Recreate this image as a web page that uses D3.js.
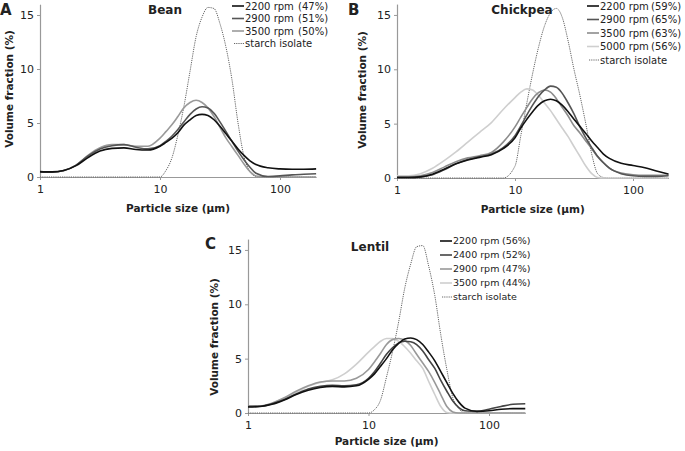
<!DOCTYPE html>
<html><head><meta charset="utf-8">
<script src="https://cdn.jsdelivr.net/npm/d3@7"></script>
<style>
body{margin:0;background:#fff}
text{font-family:"DejaVu Sans",Verdana,sans-serif;fill:#222}
</style>
</head><body>
<svg id="chart" width="685" height="451"></svg>
<script>
// particle sizes (µm), shared grid
const sizes = [1, 1.26, 1.58, 2, 2.51, 3.16, 3.98, 5.01, 6.31, 7.94,
  10, 11.2, 12.6, 14.1, 15.8, 17.8, 20, 22.4, 25.1, 28.2, 31.6, 35.5, 39.8, 44.7, 50.1, 56.2, 63.1,
  79.4, 100, 126, 158, 200];
const xTicks = [1, 10, 100];
const yTicks = [0, 5, 10, 15];

// A: Bean
const beanNames = ["2200 rpm", "2900 rpm", "3500 rpm", "starch isolate"];
const beanPct = ["(47%)", "(51%)", "(50%)", ""];
const bean2200 = [0.5,0.47,0.6,1.05,1.8,2.4,2.65,2.7,2.55,2.5,2.85,3.2,3.6,4.1,4.8,5.3,5.7,5.8,5.7,5.3,4.7,4.0,3.3,2.6,2.0,1.5,1.15,0.85,0.75,0.72,0.72,0.75];
const bean2900 = [0.45,0.45,0.6,1.1,1.95,2.6,2.9,3.0,2.75,2.6,2.9,3.3,3.8,4.4,5.1,5.8,6.3,6.5,6.4,5.9,5.1,4.2,3.3,2.4,1.6,0.9,0.35,0.05,0.1,0.2,0.25,0.3];
const bean3500 = [0.45,0.45,0.6,1.1,2.0,2.7,3.0,3.0,2.85,2.85,3.6,4.2,4.85,5.6,6.4,6.9,7.1,6.9,6.4,5.6,4.6,3.6,2.8,2.0,1.2,0.5,0.1,0,0,0,0,0];
const beanStarch = [0,0,0,0,0,0,0,0,0,0,0,0.6,1.8,3.9,6.5,9.8,13.0,14.8,15.7,15.6,14.2,12.0,9.0,5.0,1.9,0.5,0.05,0,0,0,0,0];

// B: Chickpea
const chickNames = ["2200 rpm", "2900 rpm", "3500 rpm", "5000 rpm", "starch isolate"];
const chickPct = ["(59%)", "(65%)", "(63%)", "(56%)", ""];
const chick2200 = [0.05,0.05,0.1,0.35,0.8,1.3,1.65,1.9,2.15,2.7,3.7,4.6,5.4,6.1,6.7,7.1,7.25,7.1,6.7,6.1,5.4,4.75,4.1,3.4,2.8,2.2,1.8,1.35,1.15,0.95,0.65,0.35];
const chick2900 = [0.05,0.05,0.1,0.3,0.75,1.3,1.7,1.95,2.2,2.8,3.9,4.8,5.8,6.7,7.5,8.1,8.45,8.35,7.8,6.9,5.9,4.7,3.7,2.8,2.0,1.4,0.9,0.4,0.2,0.15,0.15,0.2];
const chick3500 = [0.1,0.1,0.2,0.5,1.0,1.5,1.85,2.05,2.35,3.3,4.7,5.6,6.5,7.3,7.85,8.1,7.9,7.3,6.5,5.7,4.8,4.15,3.4,2.7,1.95,1.4,0.9,0.45,0.3,0.25,0.25,0.25];
const chick5000 = [0.2,0.2,0.4,0.9,1.6,2.4,3.3,4.2,5.1,6.3,7.4,7.9,8.2,8.1,7.6,6.9,6.2,5.4,4.6,3.8,2.9,2.0,1.1,0.4,0.05,0,0,0,0,0,0,0];
const chickStarch = [0,0,0,0,0,0,0,0,0,0,1.1,3.9,6.9,9.6,12.0,14.0,15.2,15.6,14.8,12.6,10.0,7.6,5.0,2.2,0.4,0.05,0,0,0,0,0,0];

// C: Lentil
const lentilNames = ["2200 rpm", "2400 rpm", "2900 rpm", "3500 rpm", "starch isolate"];
const lentilPct = ["(56%)", "(52%)", "(47%)", "(44%)", ""];
const lentil2200 = [0.55,0.6,0.8,1.2,1.7,2.1,2.35,2.45,2.4,2.5,3.1,3.6,4.3,5.0,5.8,6.4,6.8,6.9,6.75,6.3,5.6,4.8,3.8,2.8,1.8,1.0,0.45,0.15,0.2,0.35,0.4,0.4];
const lentil2400 = [0.6,0.62,0.85,1.25,1.75,2.2,2.45,2.55,2.5,2.6,3.2,3.8,4.6,5.4,6.0,6.45,6.6,6.55,6.3,5.7,4.9,4.1,3.0,2.0,1.1,0.5,0.2,0.15,0.35,0.6,0.8,0.85];
const lentil2900 = [0.65,0.65,0.9,1.4,2.0,2.5,2.85,2.95,2.95,3.2,4.0,4.7,5.5,6.3,6.75,6.85,6.7,6.2,5.4,4.6,3.8,2.8,1.7,0.6,0.1,0,0,0,0,0,0,0];
const lentil3500 = [0.6,0.62,0.9,1.35,1.9,2.45,2.8,3.05,3.6,4.5,5.6,6.1,6.6,6.85,6.85,6.6,6.1,5.5,4.8,4.1,2.9,1.7,0.6,0.05,0,0,0,0,0,0,0,0];
const lentilStarch = [0,0,0,0,0,0,0,0,0,0,0,0.3,1.2,3.3,5.6,8.4,11.5,13.7,15.3,15.4,13.5,10.8,7.2,4.0,1.4,0.4,0,0,0,0,0,0];

const panels = [
  {letter:"A", title:"Bean", names:beanNames, pct:beanPct,
   series:[bean2200, bean2900, bean3500, beanStarch],
   colors:["#111","#555","#9a9a9a","#666"],
   x0:40, dec:120, y0:177, unit:10.8,
   letterX:0, letterY:15, titleX:165, titleY:14, yLabX:9, yLabY:89, xLabY:212,
   legX:232, legY:6, legDy:12.5, pctX:298, legFont:10},
  {letter:"B", title:"Chickpea", names:chickNames, pct:chickPct,
   series:[chick2200, chick2900, chick3500, chick5000, chickStarch],
   colors:["#111","#555","#8c8c8c","#cfcfcf","#666"],
   x0:397, dec:118, y0:178, unit:10.87,
   letterX:348, letterY:15, titleX:522, titleY:14, yLabX:362, yLabY:90, xLabY:213,
   legX:587, legY:6, legDy:13.5, pctX:651, legFont:10},
  {letter:"C", title:"Lentil", names:lentilNames, pct:lentilPct,
   series:[lentil2200, lentil2400, lentil2900, lentil3500, lentilStarch],
   colors:["#111","#444","#999","#cfcfcf","#666"],
   x0:248, dec:120.5, y0:413, unit:10.87,
   letterX:205, letterY:249, titleX:370, titleY:251, yLabX:214, yLabY:337, xLabY:445,
   legX:440, legY:241, legDy:14, pctX:502, legFont:9.5}
];

const svg = d3.select("#chart");

panels.forEach(p => {
  const x = d3.scaleLog().domain([1, 200]).range([p.x0, p.x0 + p.dec * Math.log10(200)]);
  const y = d3.scaleLinear().domain([0, 16]).range([p.y0, p.y0 - 16 * p.unit]);
  const g = svg.append("g");

  const xa = g.append("g").attr("transform", `translate(0,${p.y0})`)
    .call(d3.axisBottom(x).tickValues(xTicks).tickFormat(d3.format("d")).tickSize(3).tickSizeOuter(0));
  const ya = g.append("g").attr("transform", `translate(${p.x0},0)`)
    .call(d3.axisLeft(y).tickValues(yTicks).tickSize(3).tickSizeOuter(0));
  [xa, ya].forEach(a => {
    a.select(".domain").attr("stroke", "#999").attr("stroke-width", 1.2);
    a.selectAll(".tick line").attr("stroke", "#999");
    a.selectAll(".tick text").attr("font-size", 11).attr("fill", "#222")
      .attr("font-family", '"DejaVu Sans",Verdana,sans-serif');
  });
  xa.selectAll(".tick text").attr("dy", "0.95em");

  const line = d3.line().x((d, i) => x(sizes[i])).y(d => y(d)).curve(d3.curveMonotoneX);
  const n = p.series.length;
  // draw in reverse so darker lines sit on top
  for (let k = n - 1; k >= 0; k--) {
    const starch = k === n - 1;
    g.append("path").datum(p.series[k]).attr("d", line)
      .attr("fill", "none").attr("stroke", p.colors[k])
      .attr("stroke-width", starch ? 1 : 1.6)
      .attr("stroke-dasharray", starch ? "1.2,1" : null);
  }

  g.append("text").attr("x", p.letterX).attr("y", p.letterY)
    .attr("font-size", 15).attr("font-weight", "bold").attr("fill", "#111").text(p.letter);
  g.append("text").attr("x", p.titleX).attr("y", p.titleY).attr("text-anchor", "middle")
    .attr("font-size", 12).attr("font-weight", "bold").attr("fill", "#111").text(p.title);
  g.append("text").attr("transform", `translate(${p.yLabX},${p.yLabY}) rotate(-90)`)
    .attr("text-anchor", "middle").attr("dy", "0.35em")
    .attr("font-size", 10.5).attr("font-weight", "bold").attr("fill", "#111").text("Volume fraction (%)");
  const xm = (x.range()[0] + x.range()[1]) / 2;
  g.append("text").attr("x", xm).attr("y", p.xLabY).attr("text-anchor", "middle")
    .attr("font-size", 10.5).attr("font-weight", "bold").attr("fill", "#111").text("Particle size (µm)");

  // legend
  p.names.forEach((nm, i) => {
    const ly = p.legY + i * p.legDy;
    const starch = i === n - 1;
    g.append("line").attr("x1", starch ? p.legX + 2 : p.legX).attr("x2", p.legX + 12)
      .attr("y1", ly).attr("y2", ly).attr("stroke", p.colors[i])
      .attr("stroke-width", starch ? 1 : 1.6).attr("stroke-dasharray", starch ? "1.2,1" : null);
    g.append("text").attr("x", p.legX + 13).attr("y", ly).attr("dy", "0.35em")
      .attr("font-size", p.legFont).attr("fill", "#333").text(nm);
    if (p.pct[i]) g.append("text").attr("x", p.pctX).attr("y", ly).attr("dy", "0.35em")
      .attr("font-size", p.legFont).attr("fill", "#333").text(p.pct[i]);
  });
});
</script>
</body></html>
